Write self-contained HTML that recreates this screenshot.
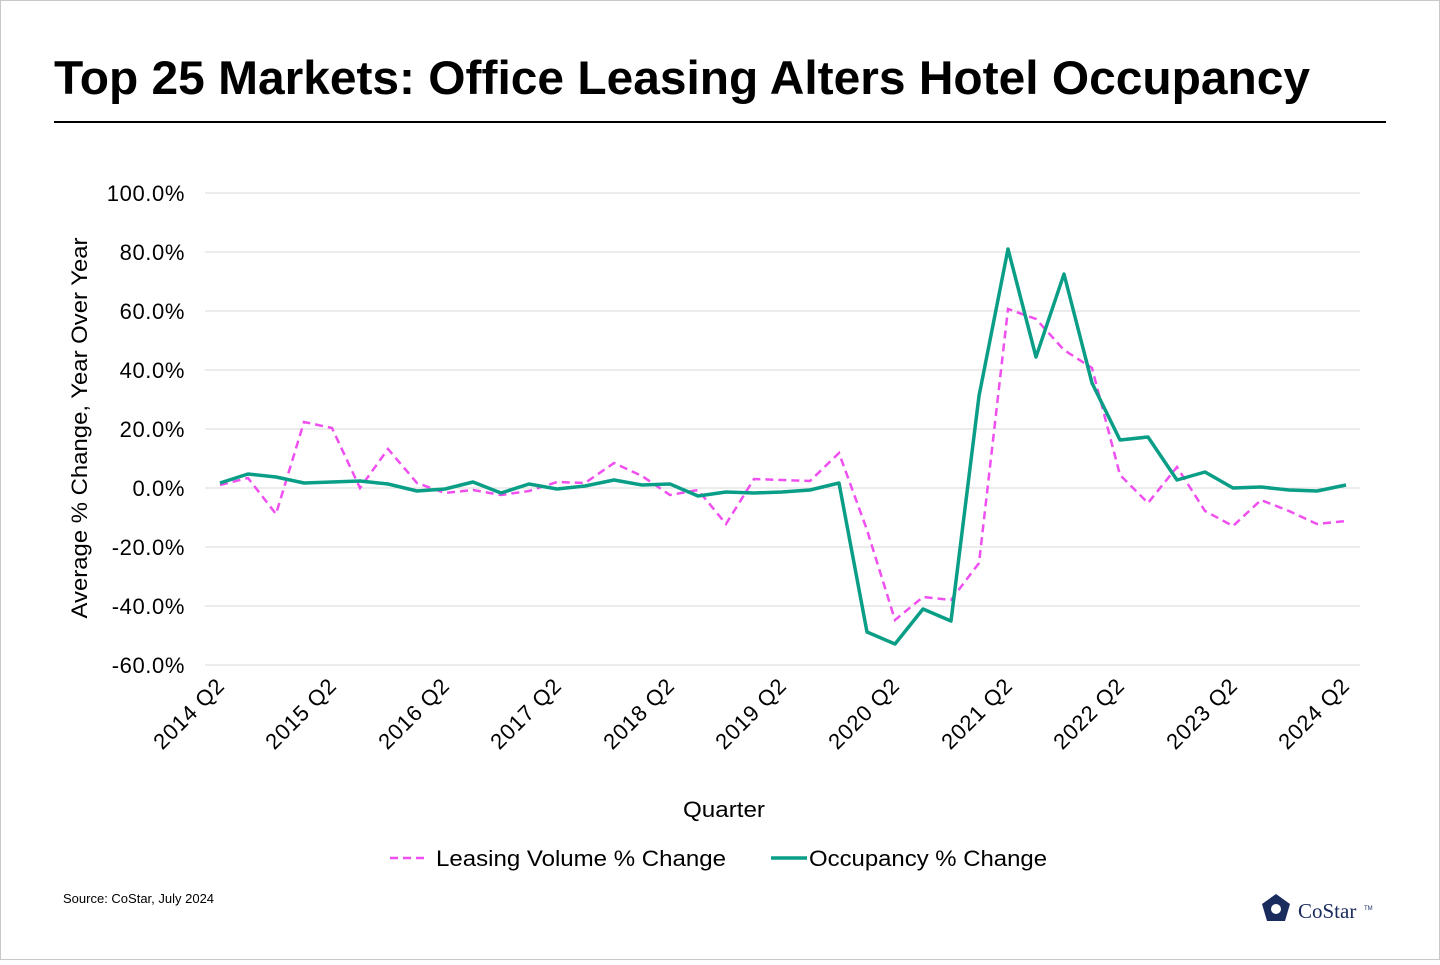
<!DOCTYPE html>
<html><head><meta charset="utf-8"><style>
html,body{margin:0;padding:0;background:#fff}
body{width:1440px;height:960px;overflow:hidden;font-family:"Liberation Sans",Arial,sans-serif}
</style></head><body>
<svg width="1440" height="960" xmlns="http://www.w3.org/2000/svg" font-family="Liberation Sans, Arial, sans-serif">
<rect x="0.5" y="0.5" width="1439" height="959" fill="#fff" stroke="#c8c8c8"/>
<text x="54" y="94" font-size="47" font-weight="bold" fill="#000" textLength="1256" lengthAdjust="spacingAndGlyphs">Top 25 Markets: Office Leasing Alters Hotel Occupancy</text>
<line x1="54" y1="122" x2="1386" y2="122" stroke="#000" stroke-width="2"/>
<g stroke="#d9d9d9" stroke-width="1">
<line x1="205" y1="193" x2="1360" y2="193"/><line x1="205" y1="252" x2="1360" y2="252"/>
<line x1="205" y1="311" x2="1360" y2="311"/><line x1="205" y1="370" x2="1360" y2="370"/>
<line x1="205" y1="429" x2="1360" y2="429"/><line x1="205" y1="488" x2="1360" y2="488"/>
<line x1="205" y1="547" x2="1360" y2="547"/><line x1="205" y1="606" x2="1360" y2="606"/>
<line x1="205" y1="665" x2="1360" y2="665"/>
</g>
<g font-size="22" fill="#000" text-anchor="end" letter-spacing="0.6">
<text x="185" y="201">100.0%</text><text x="185" y="260">80.0%</text><text x="185" y="319">60.0%</text>
<text x="185" y="378">40.0%</text><text x="185" y="437">20.0%</text><text x="185" y="496">0.0%</text>
<text x="185" y="555">-20.0%</text><text x="185" y="614">-40.0%</text><text x="185" y="673">-60.0%</text>
</g>
<text transform="translate(87,428) rotate(-90)" font-size="22" text-anchor="middle" textLength="381" lengthAdjust="spacingAndGlyphs">Average % Change, Year Over Year</text>
<g font-size="22" text-anchor="end" letter-spacing="0.8">
<text transform="translate(226,687) rotate(-45)">2014 Q2</text>
<text transform="translate(338,687) rotate(-45)">2015 Q2</text>
<text transform="translate(451,687) rotate(-45)">2016 Q2</text>
<text transform="translate(563,687) rotate(-45)">2017 Q2</text>
<text transform="translate(676,687) rotate(-45)">2018 Q2</text>
<text transform="translate(788,687) rotate(-45)">2019 Q2</text>
<text transform="translate(901,687) rotate(-45)">2020 Q2</text>
<text transform="translate(1014,687) rotate(-45)">2021 Q2</text>
<text transform="translate(1126,687) rotate(-45)">2022 Q2</text>
<text transform="translate(1239,687) rotate(-45)">2023 Q2</text>
<text transform="translate(1351,687) rotate(-45)">2024 Q2</text>
</g>
<text x="683" y="817" font-size="22" textLength="82" lengthAdjust="spacingAndGlyphs">Quarter</text>
<polyline fill="none" stroke="#f04ff0" stroke-width="2.5" stroke-dasharray="8,5" points="220,485 248,478 276,514 304,422 332,428 360,488 388,449 417,483 445,493 473,490 501,495 529,491 557,482 585,483 614,463 642,476 670,495 698,490 726,524 754,479 782,480 810,481 839,453 867,530 895,620 923,597 951,600 979,563 1008,309 1036,319 1064,350 1092,368 1120,475 1148,503 1177,467 1205,511 1233,526 1261,500 1289,511 1317,524 1346,521"/>
<polyline fill="none" stroke="#0b9e86" stroke-width="3.5" stroke-linejoin="round" points="220,483 248,474 276,477 304,483 332,482 360,481 388,484 417,491 445,489 473,482 501,493 529,484 557,489 585,486 614,480 642,485 670,484 698,496 726,492 754,493 782,492 810,490 839,483 867,632 895,644 923,609 951,621 979,396 1008,249 1036,357 1064,274 1092,383 1120,440 1148,437 1177,480 1205,472 1233,488 1261,487 1289,490 1317,491 1346,485"/>
<line x1="390" y1="858" x2="426" y2="858" stroke="#f04ff0" stroke-width="2.5" stroke-dasharray="8,5"/>
<text x="436" y="866" font-size="22" textLength="290" lengthAdjust="spacingAndGlyphs">Leasing Volume % Change</text>
<line x1="771" y1="858" x2="807" y2="858" stroke="#0b9e86" stroke-width="3.5"/>
<text x="809" y="866" font-size="22" textLength="238" lengthAdjust="spacingAndGlyphs">Occupancy % Change</text>
<text x="63" y="903" font-size="13">Source: CoStar, July 2024</text>
<g transform="translate(1276,909)">
<polygon points="0,-15 14,-5 9,12 -9,12 -14,-5" fill="#1a2b5e"/>
<circle cx="0" cy="0" r="5" fill="#fff"/>
</g>
<text x="1298" y="918" font-size="21" font-family="Liberation Serif, serif" fill="#1a2b5e">CoStar</text>
<text x="1364" y="910" font-size="6" fill="#1a2b5e">TM</text>
</svg>
</body></html>
